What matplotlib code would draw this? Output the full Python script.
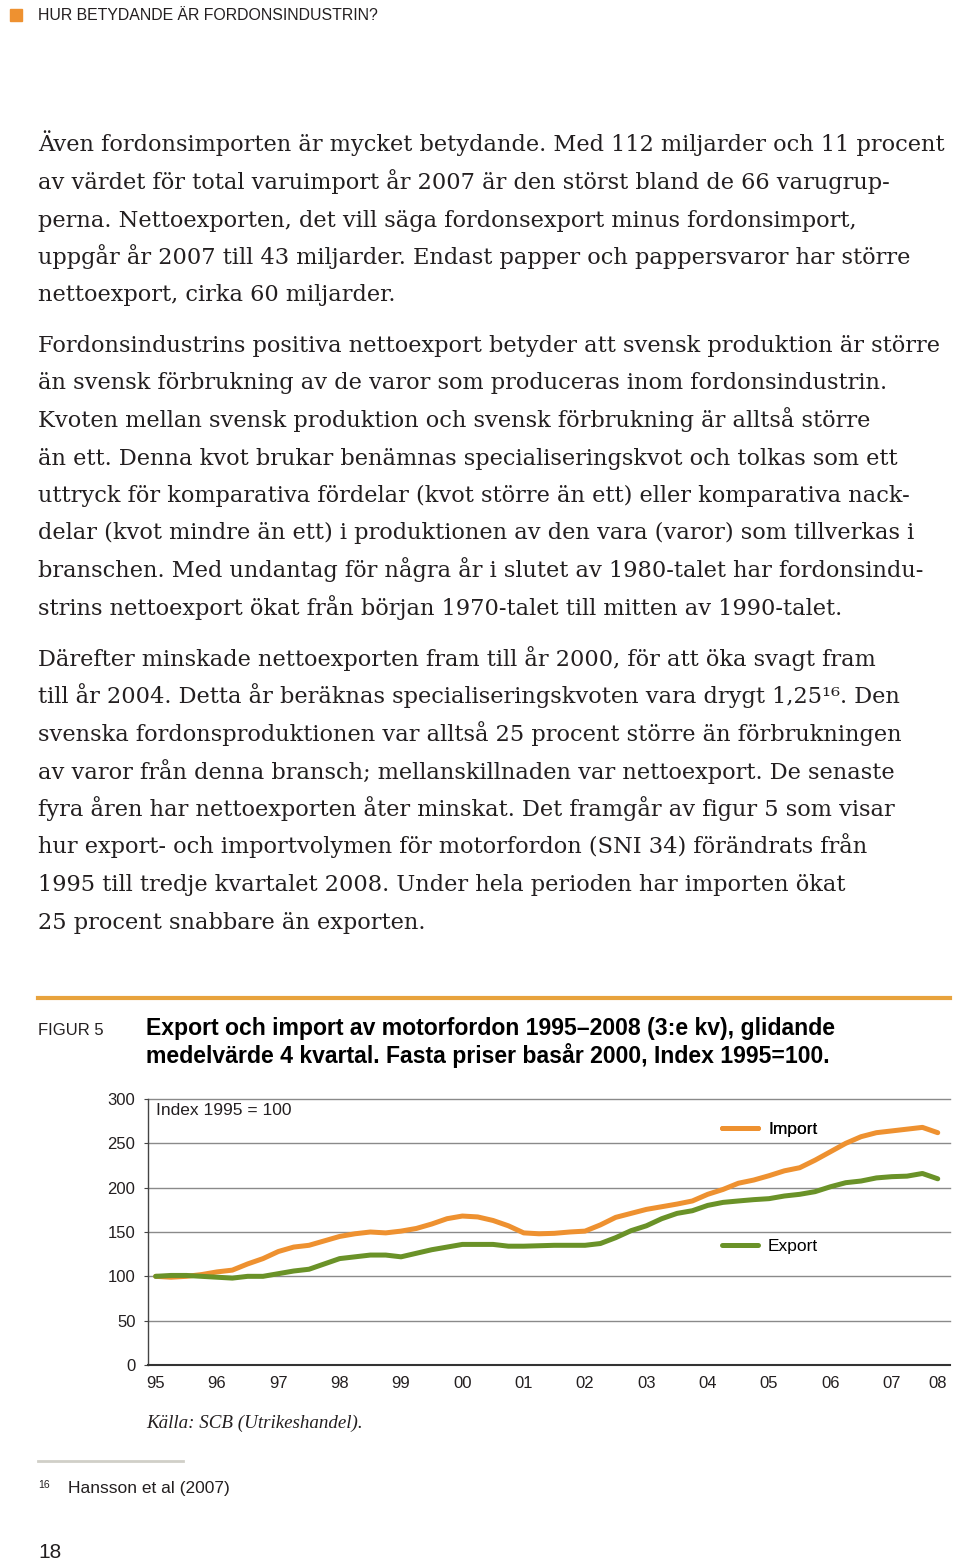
import matplotlib
matplotlib.use('Agg')
import matplotlib.pyplot as plt
from matplotlib.lines import Line2D
from matplotlib.patches import Rectangle

W, H = 960, 1567

# quarterly index, glidande medelvarde 4 kvartal, 1995 kv4 .. 2008 kv3
import_vals = [100, 99, 100, 102, 105, 107, 114, 120, 128, 133, 135, 140, 145,
               148, 150, 149, 151, 154, 159, 165, 168, 167, 163, 157, 149, 148,
               148.5, 150, 151, 158, 166.5, 171, 175.5, 178.5, 181.5, 185, 192.5,
               198, 205, 208.6, 213.5, 219, 222.5, 231, 240.5, 250, 257.5, 262,
               264, 266, 268, 262]
export_vals = [100, 101, 101, 100, 99, 98, 100, 100, 103, 106, 108, 114, 120,
               122, 124, 124, 122, 126, 130, 133, 136, 136, 136, 134, 134, 134.5,
               135, 135, 135, 137, 143.6, 151.5, 157, 165, 171, 174, 180, 183.4,
               185, 186.5, 187.6, 190.6, 192.5, 195.5, 201, 205.6, 207.5, 211,
               212.4, 213, 216, 210]
year_labels = ['95', '96', '97', '98', '99', '00', '01', '02', '03', '04',
               '05', '06', '07', '08']
year_pos = [0, 4, 8, 12, 16, 20, 24, 28, 32, 36, 40, 44, 48, 51]
y_ticks = [0, 50, 100, 150, 200, 250, 300]

header = 'HUR BETYDANDE ÄR FORDONSINDUSTRIN?'
para1 = ['Även fordonsimporten är mycket betydande. Med 112 miljarder och 11 procent',
         'av värdet för total varuimport år 2007 är den störst bland de 66 varugrup-',
         'perna. Nettoexporten, det vill säga fordonsexport minus fordonsimport,',
         'uppgår år 2007 till 43 miljarder. Endast papper och pappersvaror har större',
         'nettoexport, cirka 60 miljarder.']
para2 = ['Fordonsindustrins positiva nettoexport betyder att svensk produktion är större',
         'än svensk förbrukning av de varor som produceras inom fordonsindustrin.',
         'Kvoten mellan svensk produktion och svensk förbrukning är alltså större',
         'än ett. Denna kvot brukar benämnas specialiseringskvot och tolkas som ett',
         'uttryck för komparativa fördelar (kvot större än ett) eller komparativa nack-',
         'delar (kvot mindre än ett) i produktionen av den vara (varor) som tillverkas i',
         'branschen. Med undantag för några år i slutet av 1980-talet har fordonsindu-',
         'strins nettoexport ökat från början 1970-talet till mitten av 1990-talet.']
para3 = ['Därefter minskade nettoexporten fram till år 2000, för att öka svagt fram',
         'till år 2004. Detta år beräknas specialiseringskvoten vara drygt 1,25¹⁶. Den',
         'svenska fordonsproduktionen var alltså 25 procent större än förbrukningen',
         'av varor från denna bransch; mellanskillnaden var nettoexport. De senaste',
         'fyra åren har nettoexporten åter minskat. Det framgår av figur 5 som visar',
         'hur export- och importvolymen för motorfordon (SNI 34) förändrats från',
         '1995 till tredje kvartalet 2008. Under hela perioden har importen ökat',
         '25 procent snabbare än exporten.']
fig_title = ['Export och import av motorfordon 1995–2008 (3:e kv), glidande',
             'medelvärde 4 kvartal. Fasta priser basår 2000, Index 1995=100.']

ORANGE = '#EE9130'
GREEN = '#6A9228'
TEXT = '#231f20'
serif = ['DejaVu Serif']
serif_it = ['Liberation Serif', 'DejaVu Serif']
sans = ['Liberation Sans', 'DejaVu Sans']


def fx(x):
    return x / W


def fy(y):
    return 1 - y / H


fig = plt.figure(figsize=(W / 100, H / 100), dpi=100)

# page header
fig.patches.append(Rectangle((fx(10), fy(21)), 12 / W, 12 / H,
                             transform=fig.transFigure, color=ORANGE))
fig.text(fx(38), fy(20), header, family=sans, fontsize=11.4, color=TEXT,
         va='baseline')

# body text
step = 37.5
for start, lines in [(151.5, para1), (352, para2), (666, para3)]:
    for k, line in enumerate(lines):
        fig.text(fx(38), fy(start + k * step), line, family=serif,
                 fontsize=16.2, color=TEXT, va='baseline')

# figure header
fig.add_artist(Line2D([fx(38), fx(950)], [fy(998), fy(998)],
                      transform=fig.transFigure, color='#E8A33D', lw=3))
fig.text(fx(38), fy(1035), 'FIGUR 5', family=sans, fontsize=12, color=TEXT,
         va='baseline')
for k, line in enumerate(fig_title):
    fig.text(fx(146), fy(1035 + k * 28), line, family=sans, fontsize=16.6,
             fontweight='bold', color='black', va='baseline')

# chart
ax = fig.add_axes([fx(148), fy(1365), (950 - 148) / W, (1365 - 1099) / H])
ax.plot(range(len(import_vals)), import_vals, color=ORANGE, lw=3.6,
        solid_capstyle='round', solid_joinstyle='round', label='Import')
ax.plot(range(len(export_vals)), export_vals, color=GREEN, lw=3.6,
        solid_capstyle='round', solid_joinstyle='round', label='Export')
ax.set_xlim(-0.5, 51.8)
ax.set_ylim(0, 300)
ax.set_yticks(y_ticks)
ax.set_xticks(year_pos)
ax.set_xticklabels(year_labels)
for t in y_ticks[1:]:
    ax.axhline(t, color='#8a8a8a', lw=1, zorder=0, clip_on=False)
for s in ['top', 'right']:
    ax.spines[s].set_visible(False)
ax.spines['left'].set_color('#444444')
ax.spines['left'].set_linewidth(1)
ax.spines['bottom'].set_color('#333333')
ax.spines['bottom'].set_linewidth(1.5)
ax.tick_params(axis='y', length=3, width=0.8, color='#444444', pad=6,
               labelsize=12, labelcolor=TEXT)
ax.tick_params(axis='x', length=0, pad=8, labelsize=12, labelcolor=TEXT)
for lab in ax.get_xticklabels() + ax.get_yticklabels():
    lab.set_family(sans)
ax.text(0.01, 0.955, 'Index 1995 = 100', transform=ax.transAxes, family=sans,
        fontsize=12.5, color=TEXT, va='center')

handles = ax.get_lines()[:2]
leg1 = fig.legend([handles[0]], ['Import'], loc='center left',
                  bbox_to_anchor=(fx(722), fy(1129)), frameon=False,
                  borderpad=0, borderaxespad=0, handlelength=2.1,
                  handletextpad=0.55, prop={'family': sans, 'size': 12.5})
fig.add_artist(leg1)
fig.legend([handles[1]], ['Export'], loc='center left',
           bbox_to_anchor=(fx(722), fy(1246)), frameon=False,
           borderpad=0, borderaxespad=0, handlelength=2.1,
           handletextpad=0.55, prop={'family': sans, 'size': 12.5})

# source and footnote
fig.text(fx(146), fy(1428), 'Källa: SCB (Utrikeshandel).', family=serif_it,
         style='italic', fontsize=13.7, color=TEXT, va='baseline')
fig.add_artist(Line2D([fx(38), fx(183)], [fy(1461), fy(1461)],
                      transform=fig.transFigure, color='#d0cfc8', lw=2))
fig.text(fx(38), fy(1485), '16', family=sans, fontsize=7.5, color=TEXT,
         va='center')
fig.text(fx(68), fy(1488), 'Hansson et al (2007)', family=sans, fontsize=12.5,
         color=TEXT, va='center')
fig.text(fx(38), fy(1553), '18', family=sans, fontsize=15, color=TEXT,
         va='center')

fig.savefig('out.png', dpi=100)
